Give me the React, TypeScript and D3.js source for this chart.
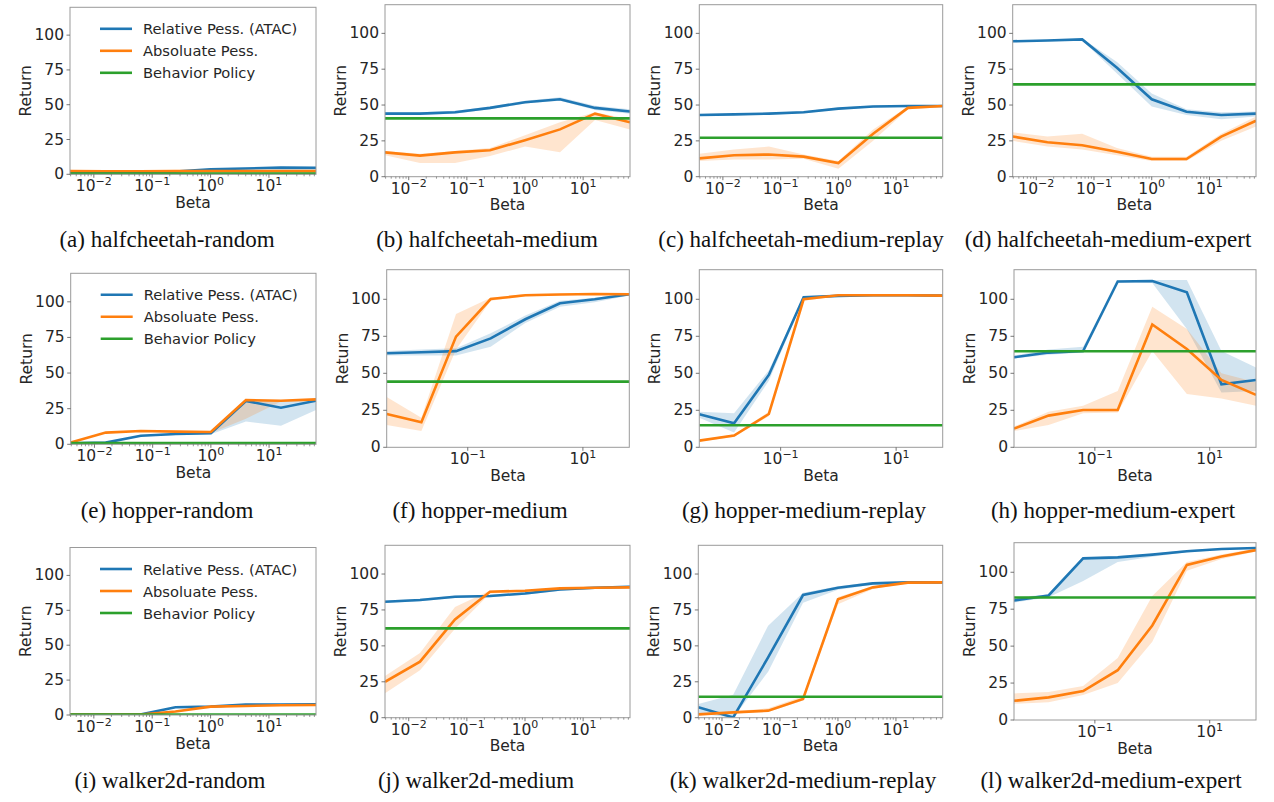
import React from "react";
import * as d3 from "d3";

// beta values swept in every panel
const betas = [1 / 256, 1 / 64, 1 / 16, 1 / 4, 1, 4, 16, 64];
const seriesNames = ["Relative Pess. (ATAC)", "Absoluate Pess.", "Behavior Policy"];
const panelTitles = [
  "(a) halfcheetah-random", "(b) halfcheetah-medium", "(c) halfcheetah-medium-replay", "(d) halfcheetah-medium-expert",
  "(e) hopper-random", "(f) hopper-medium", "(g) hopper-medium-replay", "(h) hopper-medium-expert",
  "(i) walker2d-random", "(j) walker2d-medium", "(k) walker2d-medium-replay", "(l) walker2d-medium-expert",
];
const yTicks = [0, 25, 50, 75, 100];

// Relative pessimism (ATAC)
const relMean = [
  [1.8, 1.8, 1.9, 2.0, 3.6, 4.2, 4.8, 4.6],
  [44, 44, 45, 48, 52, 54, 48, 45.5],
  [43, 43.5, 44, 45, 47.5, 49, 49.3, 49.3],
  [94.5, 95, 95.8, 76, 54, 45.3, 43, 44],
  [0.7, 1.2, 6, 7.2, 7.7, 30.4, 25.7, 30.6],
  [63.5, 64.2, 65, 73.6, 86.5, 97.3, 100, 103.4],
  [22.3, 16.2, 48.9, 101.4, 102.3, 102.7, 102.7, 102.5],
  [60.8, 64, 65, 112, 112.4, 104.7, 42.6, 45.5],
  [0.3, 0.3, 0.3, 5.5, 6, 7.5, 7.5, 7.7],
  [80.7, 81.9, 84.2, 84.7, 86.5, 89.3, 90.5, 91.2],
  [7.2, 0.2, 42, 85.4, 90.5, 93.5, 94.2, 94.2],
  [80.9, 84.3, 109.4, 110.1, 111.9, 114.2, 115.7, 116.4],
];
const relLo = [
  [1.5, 1.5, 1.6, 1.7, 3.0, 3.6, 4.2, 4.0],
  [43, 43, 44, 47, 51, 53, 46.5, 44],
  [42.3, 42.8, 43.3, 44.3, 46.8, 48.3, 48.6, 48.6],
  [94, 94.5, 95, 72, 49, 43, 40, 42],
  [0.5, 1, 5.5, 6.5, 7, 16, 13, 24],
  [62, 62, 62, 68, 84, 95, 98, 102.5],
  [20, 10, 45, 100, 101.5, 102, 102, 102],
  [60, 62.5, 64, 111, 111, 80, 37, 38],
  [0.2, 0.2, 0.2, 5, 5.5, 7, 7, 7.2],
  [79.8, 81, 83.3, 83.8, 85.6, 88.4, 89.6, 90.3],
  [3, 0, 32, 80, 89, 92.5, 93.5, 93.5],
  [79.5, 83, 94, 107, 110.5, 113.5, 115, 116],
];
const relHi = [
  [2.1, 2.1, 2.2, 2.3, 4.2, 4.8, 5.4, 5.2],
  [45, 45, 46, 49, 53, 55.5, 49.5, 47],
  [43.7, 44.2, 44.7, 45.7, 48.2, 49.7, 50, 50],
  [95, 95.5, 96.5, 80, 58, 47, 45, 45.5],
  [1, 1.5, 6.5, 8, 8.5, 31, 31, 32],
  [65, 66, 67, 77, 89, 99, 101, 104],
  [24, 23, 52, 102, 103, 103.3, 103.3, 103],
  [62, 66, 68, 112.5, 113, 113, 65, 54],
  [0.4, 0.4, 0.4, 6, 6.5, 8, 8, 8.2],
  [81.6, 82.8, 85.1, 85.6, 87.4, 90.2, 91.4, 92.1],
  [9.5, 16, 64, 87, 91.5, 94.5, 95, 95],
  [83, 85, 110, 111, 112.5, 115, 116.3, 117],
];

// Absolute pessimism
const absMean = [
  [2.3, 2.2, 2.2, 2.3, 2.3, 2.3, 2.3, 2.3],
  [17, 14.7, 17, 18.5, 25.5, 33, 44, 38],
  [12.8, 15, 15.5, 14, 9.5, 30, 48, 49.3],
  [28, 24, 22, 17.4, 12.3, 12.3, 28, 39],
  [1.2, 8.2, 9.3, 8.9, 8.6, 31, 30.6, 31.5],
  [22.5, 16.9, 74.8, 100.2, 102.7, 103.2, 103.6, 103.4],
  [4.5, 7.9, 22.5, 100, 102.7, 102.7, 102.7, 102.5],
  [12.6, 21.4, 25.2, 25.2, 83, 66.4, 45.5, 35.4],
  [0.3, 0.3, 0.3, 2.5, 6, 6.5, 7, 7.2],
  [25, 39, 68.4, 87.7, 88.4, 90, 90.5, 90.7],
  [2.3, 3.7, 4.9, 13, 82.4, 90.7, 94, 94.2],
  [13, 15.3, 19.6, 33.7, 64, 105, 110.6, 115],
];
const absLo = [
  [2.0, 1.9, 1.9, 2.0, 2.0, 2.0, 2.0, 2.0],
  [15, 9.5, 9.5, 14.5, 21, 17, 39.5, 33],
  [11, 12, 12, 12.5, 5.5, 25, 47, 48.5],
  [25, 21, 19, 15, 11, 11, 25, 35],
  [1, 8, 9, 8.5, 8, 18, 30, 31],
  [15, 11, 66, 99, 102, 102.5, 103, 102.5],
  [4, 7, 21, 99, 102, 102, 102, 102],
  [11, 15, 23, 23.5, 65, 36, 33, 28],
  [0.2, 0.2, 0.2, 2, 5.5, 6, 6.5, 6.7],
  [17, 33, 62, 86.5, 87.5, 89.5, 90, 90],
  [1.5, 3, 4, 12, 79, 89.5, 93.5, 93.8],
  [11, 12, 17, 25, 53, 101, 109, 114],
];
const absHi = [
  [2.6, 2.5, 2.5, 2.6, 2.6, 2.6, 2.6, 2.6],
  [18, 16, 18, 20, 29, 38, 45, 40],
  [16, 19, 21, 15.5, 11, 33, 49, 50],
  [31, 28, 30, 20, 14, 14, 30, 42],
  [1.5, 8.5, 9.6, 9.2, 9, 31.5, 31, 32],
  [34, 20, 90, 101, 103.5, 104, 104, 104],
  [5, 8.8, 24, 101, 103.3, 103.3, 103.3, 103],
  [14, 24, 28, 38, 95, 80, 50, 44],
  [0.4, 0.4, 0.4, 3, 6.5, 7, 7.5, 7.7],
  [29, 45, 77, 88.5, 89, 90.5, 91, 91.5],
  [3, 4.5, 6.5, 15, 84, 91.5, 94.5, 94.6],
  [18, 19, 23, 42, 84, 107, 112, 116],
];

// Behavior policy (constant)
const behavior = [0.5, 40.7, 27.2, 64.4, 0.8, 44.4, 14.9, 64.9, 0.3, 62.2, 14.6, 82.9];

// layout: axes frames [left, top, right, bottom] in px
const frames = [
  [70, 7.3, 316, 174.3], [385, 4.7, 630, 176.7], [699.3, 4.7, 942.7, 176.7], [1012.7, 4.7, 1256, 176.7],
  [70.7, 273.3, 316, 444.3], [386.7, 269.7, 629.3, 447.3], [699.3, 269.7, 942.7, 447.3], [1014, 269.7, 1256, 447.3],
  [70, 547.5, 316, 715], [385, 545.3, 630, 717.7], [698.3, 545.3, 942.7, 717.7], [1014, 542.7, 1256, 720],
];
const captionX = [167, 487, 801, 1108, 167, 480, 804, 1113, 170, 476, 803, 1111];
const captionY = [247, 518, 788];
const sparseTicks = [5, 6, 7, 11];

const colors = ["#1f77b4", "#ff7f0e", "#2ca02c"];
const sans = "'DejaVu Sans', sans-serif";
const textColor = "#262626";

function Panel({ i }: { i: number }) {
  const [l, t, r, b] = frames[i];
  const x = d3.scaleLog().domain([betas[0], betas[betas.length - 1]]).range([l, r]);
  const y = d3.scaleLinear().domain([0, 120]).range([b, t]);
  const line = d3.line<number>().x((_, k) => x(betas[k])).y((v) => y(v));
  const area = (lo: number[], hi: number[]) =>
    d3.area<number>().x((_, k) => x(betas[k])).y0((_, k) => y(lo[k])).y1((_, k) => y(hi[k]))(betas);
  const majors = sparseTicks.includes(i) ? [-1, 1] : [-2, -1, 0, 1];
  const minors: number[] = [];
  if (!sparseTicks.includes(i)) {
    for (let e = -3; e <= 1; e++) for (let m = 2; m <= 9; m++) {
      const v = m * Math.pow(10, e);
      if (v >= betas[0] && v <= betas[betas.length - 1]) minors.push(v);
    }
  }
  const legend = i % 4 === 0;
  const clipId = `clip${i}`;
  return (
    <g>
      <defs>
        <clipPath id={clipId}>
          <rect x={l} y={t} width={r - l} height={b - t} />
        </clipPath>
      </defs>
      <g clipPath={`url(#${clipId})`}>
        <path d={area(relLo[i], relHi[i]) || ""} fill={colors[0]} fillOpacity={0.2} />
        <path d={area(absLo[i], absHi[i]) || ""} fill={colors[1]} fillOpacity={0.2} />
        <path d={line(relMean[i]) || ""} fill="none" stroke={colors[0]} strokeWidth={2.6} />
        <path d={line(absMean[i]) || ""} fill="none" stroke={colors[1]} strokeWidth={2.6} />
        <line x1={l} x2={r} y1={y(behavior[i])} y2={y(behavior[i])} stroke={colors[2]} strokeWidth={2.6} />
      </g>
      <rect x={l} y={t} width={r - l} height={b - t} fill="none" stroke="#9a9a9a" strokeWidth={1} />
      {yTicks.map((v) => (
        <g key={v}>
          <line x1={l - 3.5} x2={l} y1={y(v)} y2={y(v)} stroke="#555" strokeWidth={0.8} />
          <text x={l - 6} y={y(v)} textAnchor="end" dominantBaseline="central" fontFamily={sans} fontSize={15.5} fill={textColor}>
            {v}
          </text>
        </g>
      ))}
      {minors.map((v, k) => (
        <line key={k} x1={x(v)} x2={x(v)} y1={b} y2={b + 2} stroke="#555" strokeWidth={0.6} />
      ))}
      {majors.map((e) => (
        <g key={e}>
          <line x1={x(Math.pow(10, e))} x2={x(Math.pow(10, e))} y1={b} y2={b + 3.5} stroke="#555" strokeWidth={0.8} />
          <text x={x(Math.pow(10, e))} y={b + 17} textAnchor="middle" fontFamily={sans} fontSize={15.5} fill={textColor}>
            <tspan>10</tspan>
            <tspan dy={-6.5} fontSize={11}>{e < 0 ? `\u2212${-e}` : `${e}`}</tspan>
          </text>
        </g>
      ))}
      <text x={(l + r) / 2} y={b + 33.5} textAnchor="middle" fontFamily={sans} fontSize={15.5} fill={textColor}>
        Beta
      </text>
      <text
        transform={`translate(${l - 44},${(t + b) / 2}) rotate(-90)`}
        textAnchor="middle"
        dominantBaseline="central"
        fontFamily={sans}
        fontSize={15.5}
        fill={textColor}
      >
        Return
      </text>
      {legend &&
        seriesNames.map((name, k) => {
          const ly = t + 21.5 + k * 22;
          return (
            <g key={name}>
              <line x1={l + 30} x2={l + 62} y1={ly} y2={ly} stroke={colors[k]} strokeWidth={2.6} />
              <text x={l + 73} y={ly} dominantBaseline="central" fontFamily={sans} fontSize={14.7} fill={textColor}>
                {name}
              </text>
            </g>
          );
        })}
      <text
        x={captionX[i]}
        y={captionY[Math.floor(i / 4)]}
        textAnchor="middle"
        fontFamily="'Liberation Serif', 'Times New Roman', serif"
        fontSize={23}
        fill="#111"
      >
        {panelTitles[i]}
      </text>
    </g>
  );
}

export default function App() {
  return (
    <svg
      width={1274}
      height={802}
      style={{ position: "absolute", left: 0, top: 0, background: "#fff" }}
    >
      <rect width={1274} height={802} fill="#fff" />
      {panelTitles.map((_, i) => (
        <Panel key={i} i={i} />
      ))}
    </svg>
  );
}
